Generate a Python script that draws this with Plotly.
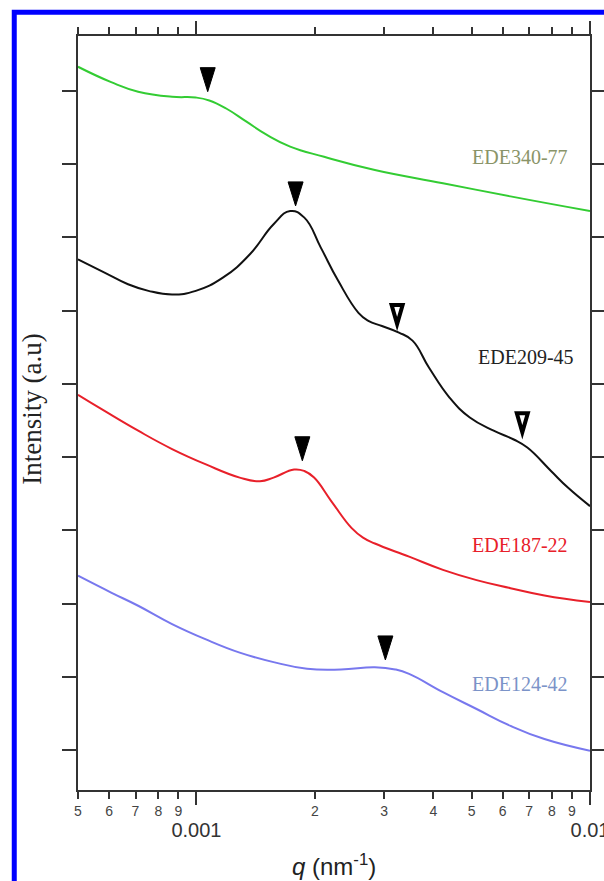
import plotly.graph_objects as go

# ---------------- data ----------------
q_340 = [0.0005, 0.000607, 0.000711, 0.000867, 0.000996, 0.001078, 0.00119, 0.00134,
         0.00151, 0.00173, 0.00211, 0.00284, 0.00423, 0.00628, 0.01]
I_340 = [10.33, 10.12, 9.99, 9.92, 9.91, 9.87, 9.76, 9.58, 9.40, 9.24, 9.10, 8.92,
         8.74, 8.56, 8.36]

q_209 = [0.0005, 0.000584, 0.00067, 0.000755, 0.000867, 0.000996, 0.001167, 0.001367,
         0.00157, 0.00173, 0.00188, 0.00207, 0.00229, 0.00258, 0.002734, 0.00296,
         0.00327, 0.00354, 0.00390, 0.00440, 0.00495, 0.00569, 0.00640, 0.00693,
         0.00796, 0.00880, 0.01]
I_209 = [7.70, 7.52, 7.36, 7.27, 7.22, 7.27, 7.45, 7.77, 8.18, 8.36, 8.27, 7.86, 7.41,
         6.97, 6.86, 6.79, 6.70, 6.59, 6.22, 5.81, 5.54, 5.36, 5.24, 5.13, 4.81, 4.58,
         4.33]

q_187 = [0.0005, 0.000584, 0.000711, 0.000867, 0.001057, 0.001288, 0.00145, 0.00157,
         0.00177, 0.00188, 0.00199, 0.00220, 0.00248, 0.00265, 0.00284, 0.00347,
         0.00423, 0.00515, 0.00628, 0.00766, 0.01]
I_187 = [5.85, 5.63, 5.36, 5.11, 4.90, 4.72, 4.67, 4.72, 4.83, 4.81, 4.72, 4.40, 4.03,
         3.90, 3.82, 3.64, 3.46, 3.32, 3.21, 3.11, 3.02]

q_124 = [0.0005, 0.000607, 0.000711, 0.000867, 0.001057, 0.001288, 0.00157, 0.00191,
         0.00233, 0.00284, 0.0032, 0.00347, 0.00423, 0.00515, 0.00628, 0.00766, 0.01]
I_124 = [3.38, 3.15, 2.97, 2.72, 2.51, 2.33, 2.20, 2.11, 2.10, 2.13, 2.10, 2.04, 1.79,
         1.56, 1.33, 1.15, 0.99]

# peak markers (tip position)
filled_q = [0.001068, 0.001786, 0.001858, 0.00302]
filled_I = [9.99, 8.43, 4.95, 2.23]
open_q = [0.003235, 0.00673]
open_I = [6.77, 5.29]

series_names = ["EDE340-77", "EDE209-45", "EDE187-22", "EDE124-42"]
label_I = [9.10, 6.37, 3.80, 1.90]
label_x = [0.961, 0.973, 0.961, 0.961]

minor_vals = [0.0005, 0.0006, 0.0007, 0.0008, 0.0009,
              0.002, 0.003, 0.004, 0.005, 0.006, 0.007, 0.008, 0.009]
minor_text = ["5", "6", "7", "8", "9", "2", "3", "4", "5", "6", "7", "8", "9"]
major_vals = [0.001, 0.01]
major_text = ["0.001", "0.01"]
y_ticks = [1, 2, 3, 4, 5, 6, 7, 8, 9, 10]

# ---------------- styling ----------------
line_colors = ["#33CC33", "#111111", "#E8202A", "#7878EE"]
label_colors = ["#8A9468", "#222222", "#E8202A", "#7B93C8"]

fig = go.Figure()
curves = [(q_340, I_340), (q_209, I_209), (q_187, I_187), (q_124, I_124)]
for i, ((qq, ii), name) in enumerate(zip(curves, series_names)):
    fig.add_trace(go.Scatter(
        x=qq, y=ii, mode="lines", name=name,
        line=dict(color=line_colors[i], width=2, shape="spline", smoothing=1.3),
        xaxis="x2" if i == 3 else "x", showlegend=False))

shapes = []
for qv, iv in zip(filled_q, filled_I):
    shapes.append(dict(type="path", xref="x", yref="y", xsizemode="pixel",
                       ysizemode="pixel", xanchor=qv, yanchor=iv,
                       path="M -7.5,24 L 7.5,24 L 0,0 Z",
                       fillcolor="black", line=dict(color="black", width=1)))
for qv, iv in zip(open_q, open_I):
    shapes.append(dict(type="path", xref="x", yref="y", xsizemode="pixel",
                       ysizemode="pixel", xanchor=qv, yanchor=iv,
                       path="M -5.5,22.5 L 5.5,22.5 L 0,3.5 Z",
                       fillcolor="white", line=dict(color="black", width=4)))
# blue frame
shapes.append(dict(type="rect", xref="paper", yref="paper",
                   x0=-0.1245, x1=1.08, y0=-0.16, y1=1.0315,
                   line=dict(color="#0000FF", width=5), fillcolor="rgba(0,0,0,0)",
                   layer="above"))

annotations = []
for name, yv, xv, c in zip(series_names, label_I, label_x, label_colors):
    annotations.append(dict(x=xv, xref="paper", y=yv, yref="y", text=name,
                            showarrow=False, xanchor="right", yanchor="middle",
                            font=dict(family="Liberation Serif", size=20, color=c)))
annotations.append(dict(x=-0.089, xref="paper", y=0.505, yref="paper",
                        text="Intensity (a.u)", textangle=-90, showarrow=False,
                        xanchor="center", yanchor="middle",
                        font=dict(family="Liberation Serif", size=27, color="#222222")))
annotations.append(dict(x=0.5, xref="paper", y=-0.1, yref="paper",
                        text="<i>q</i> (nm<sup>-1</sup>)", showarrow=False,
                        xanchor="center", yanchor="middle",
                        font=dict(family="Liberation Sans", size=24, color="#222222")))

xr = [-3.30103, -2.0]
fig.update_layout(
    width=604, height=881, template="none",
    margin=dict(l=78, r=14, t=36, b=91, autoexpand=False),
    paper_bgcolor="white", plot_bgcolor="white",
    xaxis=dict(type="log", range=xr, tickmode="array", tickvals=minor_vals,
               ticktext=minor_text, ticks="outside", ticklen=7, tickwidth=1.5,
               tickcolor="#333333", tickfont=dict(family="Liberation Sans", size=14,
                                                  color="#444444"),
               showline=True, linewidth=2, linecolor="#333333", mirror="ticks",
               showgrid=False, zeroline=False, automargin=False,
               ticklabeloverflow="allow"),
    xaxis2=dict(type="log", range=xr, overlaying="x", side="bottom", anchor="y",
                tickmode="array", tickvals=major_vals, ticktext=major_text,
                ticks="outside", ticklen=14, tickwidth=2, tickcolor="#333333",
                tickfont=dict(family="Liberation Sans", size=20, color="#333333"),
                ticklabelstandoff=8, showline=False, mirror="ticks",
                showgrid=False, zeroline=False, automargin=False,
                ticklabeloverflow="allow"),
    yaxis=dict(range=[0.454, 10.75], tickmode="array", tickvals=y_ticks,
               showticklabels=False, ticks="outside", ticklen=14, tickwidth=1.5,
               tickcolor="#333333", showline=True, linewidth=2, linecolor="#333333",
               mirror="ticks", showgrid=False, zeroline=False, automargin=False),
    shapes=shapes, annotations=annotations, showlegend=False,
)

fig.write_html("out.html")
